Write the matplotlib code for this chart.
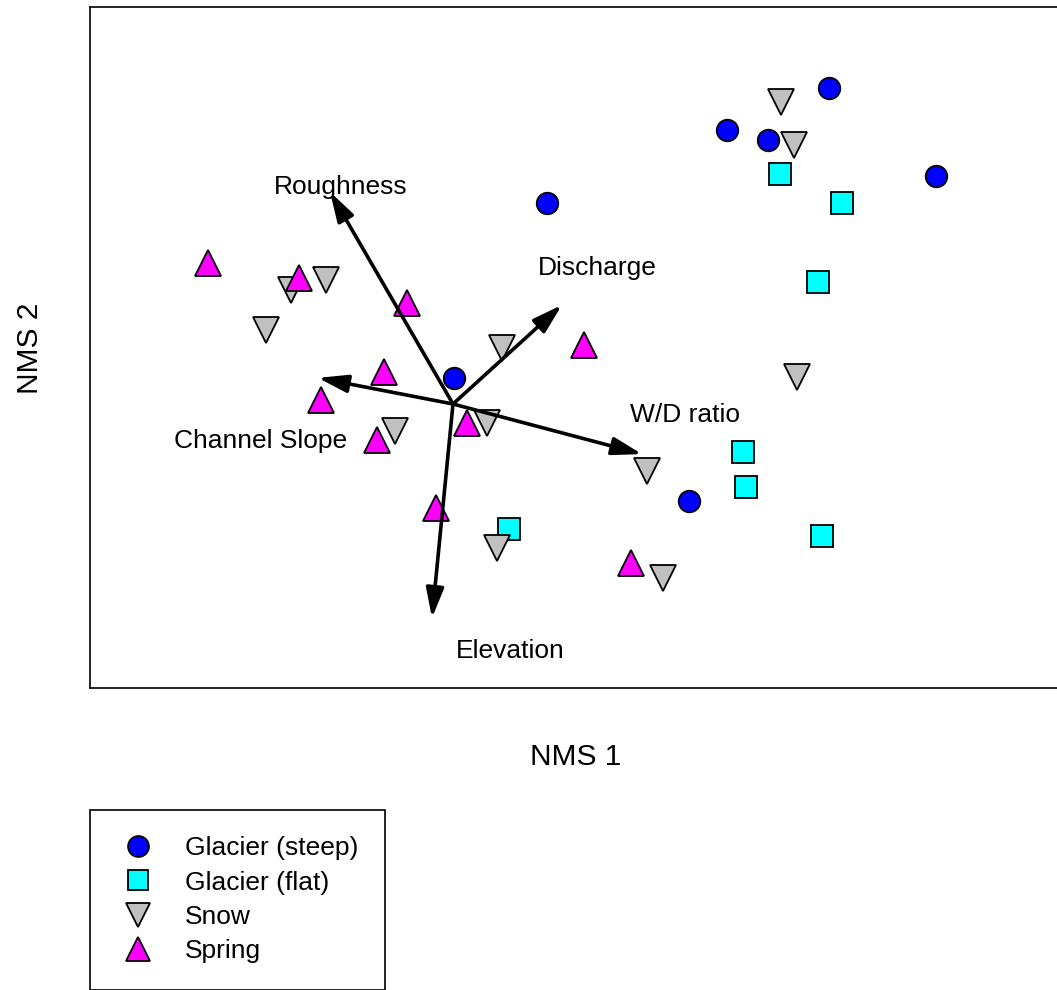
import matplotlib
matplotlib.use("Agg")
import matplotlib.pyplot as plt
from matplotlib.lines import Line2D

plt.rcParams['font.family'] = ['Liberation Sans', 'DejaVu Sans']

# NMS ordination scores by stream type
steep_x = [1.253, 0.913, 1.050, 1.610, 0.313, 0.003, 0.787]
steep_y = [1.053, 0.913, 0.880, 0.760, 0.670, 0.087, -0.323]

flat_x = [1.090, 1.297, 1.217, 0.967, 0.977, 1.230, 0.187]
flat_y = [0.767, 0.670, 0.407, -0.160, -0.277, -0.440, -0.417]

snow_x = [1.093, 1.137, -0.423, -0.540, -0.623, 0.163, 1.147, -0.193, 0.113, 0.647, 0.147, 0.700]
snow_y = [1.007, 0.863, 0.413, 0.380, 0.247, 0.187, 0.090, -0.090, -0.063, -0.223, -0.480, -0.580]

spring_x = [-0.817, -0.513, -0.153, 0.437, -0.230, -0.440, 0.047, -0.253, -0.057, 0.593]
spring_y = [0.470, 0.420, 0.337, 0.197, 0.107, 0.013, -0.063, -0.120, -0.347, -0.530]

# Environmental vectors (joint plot)
vec_names = ['Roughness', 'Discharge', 'Channel Slope', 'W/D ratio', 'Elevation']
vec_x = [-0.410, 0.363, -0.450, 0.630, -0.070]
vec_y = [0.707, 0.330, 0.087, -0.167, -0.713]
vec_label_x = [-0.373, 0.480, -0.643, 0.773, 0.190]
vec_label_y = [0.722, 0.455, -0.123, -0.035, -0.822]

W, H = 1057, 990
fig = plt.figure(figsize=(W / 100, H / 100), dpi=100)
ax = fig.add_axes([90 / W, 1 - 688 / H, (1064 - 90) / W, (688 - 7) / H])
ax.set_xlim((90 - 453) / 300, (1064 - 453) / 300)
ax.set_ylim((404 - 688) / 300, (404 - 7) / 300)
ax.set_xticks([])
ax.set_yticks([])
for s in ax.spines.values():
    s.set_linewidth(1.2)
    s.set_color('black')

mk = dict(linestyle='none', markeredgecolor='black', markeredgewidth=1.3)
ax.plot(steep_x, steep_y, marker='o', markersize=15.5, markerfacecolor='#0000ff', **mk)
ax.plot(flat_x, flat_y, marker='s', markersize=16, markerfacecolor='#00ffff', **mk)
ax.plot(snow_x, snow_y, marker='v', markersize=19, markerfacecolor='#c0c0c0', **mk)
ax.plot(spring_x, spring_y, marker='^', markersize=19, markerfacecolor='#ff00ff', **mk)

for name, vx, vy, lx, ly in zip(vec_names, vec_x, vec_y, vec_label_x, vec_label_y):
    ax.annotate('', xy=(vx, vy), xytext=(0, 0),
                arrowprops=dict(arrowstyle='-|>,head_length=0.9,head_width=0.27',
                                lw=2.6, color='black', shrinkA=0, shrinkB=0,
                                mutation_scale=20))
    ax.text(lx, ly, name, ha='center', va='center', fontsize=19, color='black')

fig.text(576 / W, 1 - 757 / H, 'NMS 1', ha='center', va='center', fontsize=21.5)
fig.text(30 / W, 1 - 348 / H, 'NMS 2', ha='center', va='center', fontsize=21.5, rotation=90)

handles = [
    Line2D([], [], marker='o', markersize=15, markerfacecolor='#0000ff', **mk),
    Line2D([], [], marker='s', markersize=14, markerfacecolor='#00ffff', **mk),
    Line2D([], [], marker='v', markersize=17, markerfacecolor='#c0c0c0', **mk),
    Line2D([], [], marker='^', markersize=17, markerfacecolor='#ff00ff', **mk),
]
labels = ['Glacier (steep)', 'Glacier (flat)', 'Snow', 'Spring']
leg = fig.legend(handles, labels, loc='upper left',
                 bbox_to_anchor=(90 / W, 1 - 810 / H), borderaxespad=0,
                 fontsize=19, frameon=True, fancybox=False, edgecolor='black',
                 framealpha=1, borderpad=1.0, labelspacing=0.39,
                 handlelength=1.65, handletextpad=0.95)
leg.get_frame().set_linewidth(1.2)

fig.savefig('out.png', dpi=100)
